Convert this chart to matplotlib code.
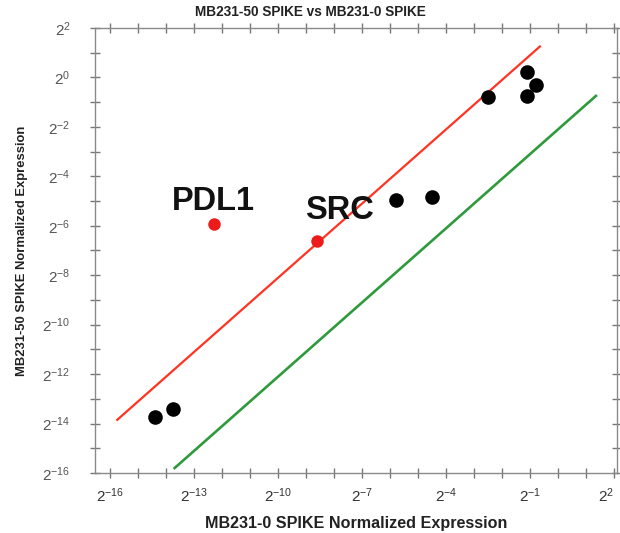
import numpy as np
import matplotlib
matplotlib.use("Agg")
import matplotlib.pyplot as plt

plt.rcParams['font.family'] = ['Liberation Sans', 'DejaVu Sans']
plt.rcParams['mathtext.fontset'] = 'custom'
plt.rcParams['mathtext.rm'] = 'Liberation Sans'

# log2 normalized expression, MB231-0 SPIKE (x) vs MB231-50 SPIKE (y)
other_x = [-14.4, -13.75, -5.8, -4.5, -2.5, -1.1, -0.8, -1.1]
other_y = [-13.75, -13.4, -4.95, -4.85, -0.8, 0.2, -0.3, -0.75]

genes = ['PDL1', 'SRC']
gene_x = [-12.3, -8.6]
gene_y = [-5.95, -6.6]

# fold-change guide lines (log2 offset and x extent)
upper_offset = 1.9
upper_span = [-15.75, -0.65]
lower_offset = -2.1
lower_span = [-13.7, 1.35]

x_ticks = np.arange(-16, 3, 3)
y_ticks = np.arange(-16, 3, 2)

fig = plt.figure(figsize=(6.2, 5.33), dpi=100)
ax = fig.add_axes([0.153, 0.1126, 0.842, 0.835])

ax.plot(upper_span, [v + upper_offset for v in upper_span], color='#ff3322', lw=1.6)
ax.plot(lower_span, [v + lower_offset for v in lower_span], color='#2e9a3c', lw=1.9)

ax.plot(other_x, other_y, 'o', color='black', ms=10.5, mec='none')
ax.plot(gene_x, gene_y, 'o', color='#ee1b1b', ms=9, mec='none')

# gene names sit above-right of their points
label_shift = {'PDL1': (0.0, 0.95), 'SRC': (0.8, 1.2)}
for g, gx, gy in zip(genes, gene_x, gene_y):
    dx, dy = label_shift[g]
    ax.text(gx + dx, gy + dy, g, fontsize=23.5, fontweight='bold',
            ha='center', va='center', color='#111111')

ax.set_xlim(-16.55, 2.1)
ax.set_ylim(-16, 2)

ax.set_xticks(x_ticks)
ax.set_xticklabels([r'$\mathregular{2^{%d}}$' % v for v in x_ticks])
ax.set_xticks(np.arange(-16, 3, 1), minor=True)
ax.set_yticks(y_ticks)
ax.set_yticklabels([r'$\mathregular{2^{%d}}$' % v for v in y_ticks])
ax.set_yticks(np.arange(-16, 3, 1), minor=True)

for spine in ax.spines.values():
    spine.set_color('#8a8a8a')
    spine.set_linewidth(1.0)

ax.tick_params(axis='both', which='both', direction='inout', length=7,
               width=1.0, color='#777777', top=True, right=True)
ax.tick_params(axis='x', which='major', labelsize=11, labelcolor='#333333', pad=6)
ax.tick_params(axis='y', which='major', labelsize=11, labelcolor='#555555', pad=14)
# keep the last x label inside the figure edge
ax.get_xticklabels()[-1].set_horizontalalignment('right')

ax.set_xlabel('MB231-0 SPIKE Normalized Expression', fontsize=11.6,
              fontweight='bold', color='#222222', labelpad=8)
ax.set_ylabel('MB231-50 SPIKE Normalized Expression', fontsize=9.4,
              fontweight='bold', color='#222222', labelpad=10)
fig.text(0.5, 0.977, 'MB231-50 SPIKE vs MB231-0 SPIKE', ha='center',
         va='center', fontsize=9.8, fontweight='bold', color='#222222')

fig.savefig('out.png', dpi=100)
